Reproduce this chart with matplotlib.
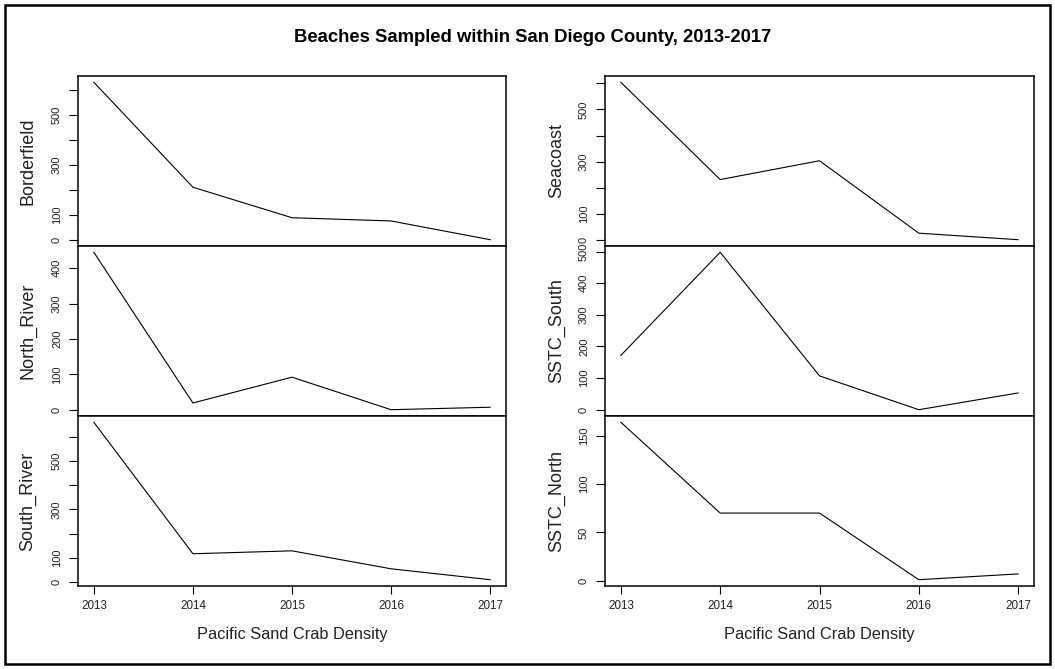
import matplotlib
matplotlib.use("Agg")
import matplotlib.pyplot as plt
from matplotlib.patches import Rectangle

plt.rcParams["font.family"] = ["Liberation Sans", "DejaVu Sans"]

# Sampling years and sand crab densities per beach
years = [2013, 2014, 2015, 2016, 2017]
borderfield = [630, 210, 88, 75, 0]
north_river = [445, 19, 92, 0, 7]
south_river = [659, 117, 129, 55, 10]
seacoast = [604, 232, 304, 27, 2]
sstc_south = [172, 498, 107, 0, 53]
sstc_north = [164, 70, 70, 1, 7]

beach_names = ["Borderfield", "North_River", "South_River",
               "Seacoast", "SSTC_South", "SSTC_North"]
beach_values = [borderfield, north_river, south_river,
                seacoast, sstc_south, sstc_north]

# y tick positions and which of them carry a label
ytick_sets = [
    (list(range(0, 601, 100)), [0, 100, 300, 500]),
    (list(range(0, 401, 100)), [0, 100, 200, 300, 400]),
    (list(range(0, 601, 100)), [0, 100, 300, 500]),
    (list(range(0, 601, 100)), [0, 100, 300, 500]),
    (list(range(0, 501, 100)), [0, 100, 200, 300, 400, 500]),
    (list(range(0, 151, 50)), [0, 50, 100, 150]),
]

title = "Beaches Sampled within San Diego County, 2013-2017"
xlabel = "Pacific Sand Crab Density"

W, H = 1055, 669
fig = plt.figure(figsize=(W / 100, H / 100), dpi=100)

col_x = [78, 605]
col_w = [428, 429]
row_top = [76, 246, 416]
row_h = 170

for i, (name, vals) in enumerate(zip(beach_names, beach_values)):
    c, r = divmod(i, 3)
    left = col_x[c] / W
    bottom = 1 - (row_top[r] + row_h) / H
    ax = fig.add_axes([left, bottom, col_w[c] / W, row_h / H])
    ax.plot(years, vals, color="black", lw=0.8)

    lo, hi = min(vals), max(vals)
    pad = 0.04 * (hi - lo)
    ax.set_ylim(lo - pad, hi + pad)
    xpad = 0.04 * (years[-1] - years[0])
    ax.set_xlim(years[0] - xpad, years[-1] + xpad)

    ticks, shown = ytick_sets[i]
    ax.set_yticks(ticks)
    ax.set_yticklabels([str(t) if t in shown else "" for t in ticks])
    ax.tick_params(axis="y", length=6.5, width=0.8, labelsize=8,
                   pad=5, labelrotation=90, labelcolor="#222222")
    for lab in ax.get_yticklabels():
        lab.set_va("center")

    if r == 2:
        ax.set_xticks(years)
        ax.set_xticklabels([str(y) for y in years])
        ax.tick_params(axis="x", length=6, width=0.8, labelsize=8.4,
                       pad=4, labelcolor="#222222")
    else:
        ax.set_xticks([])

    for sp in ax.spines.values():
        sp.set_linewidth(1.1)

    ax.set_ylabel(name, fontsize=13, color="#222222")
    ax.yaxis.label.set_va("center")
    label_x = 28 if c == 0 else 557
    ax.yaxis.set_label_coords((label_x - col_x[c]) / col_w[c], 0.5)

fig.text(0.505, 1 - 38 / H, title, ha="center", va="center",
         fontsize=13.3, fontweight="bold")
for c in range(2):
    cx = (col_x[c] + col_w[c] / 2) / W
    fig.text(cx, 1 - 635 / H, xlabel, ha="center", va="center",
             fontsize=11.8, color="#222222")

fig.add_artist(Rectangle((5 / W, 5 / H), 1045 / W, 659 / H,
                         transform=fig.transFigure, fill=False,
                         lw=1.8, edgecolor="black"))

fig.savefig("out.png", dpi=100)
